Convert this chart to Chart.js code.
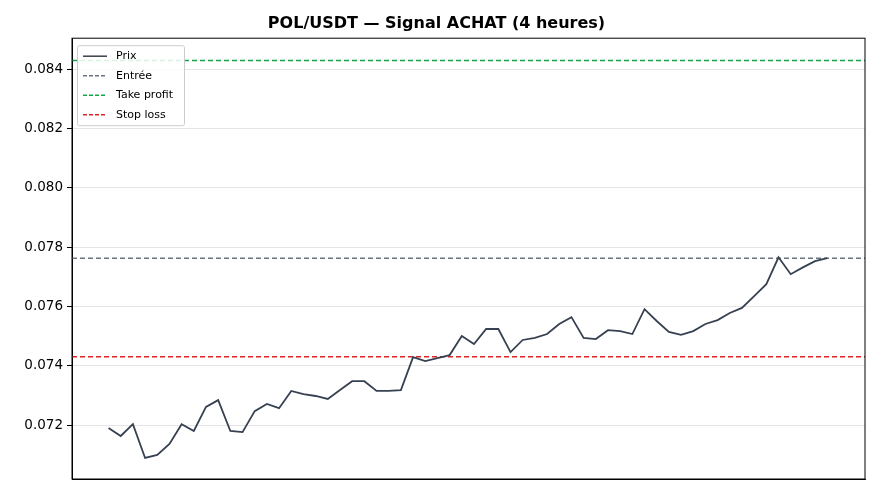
<!DOCTYPE html><html><head><meta charset="utf-8">
<script src="https://cdn.jsdelivr.net/npm/chart.js@4"></script>
<style>body{margin:0;background:#fff}#w{width:880px;height:495px}</style></head><body><div id="w"><canvas id="c"></canvas></div>
<script>
const prices=[0.07190,0.07163,0.07203,0.07089,0.07099,0.07136,0.07203,0.07180,0.07261,0.07284,0.07180,0.07176,0.07247,0.07271,0.07257,0.07315,0.07304,0.07298,0.07288,0.07318,0.07348,0.07348,0.07315,0.07315,0.07318,0.07429,0.07416,0.07426,0.07436,0.07500,0.07473,0.07524,0.07524,0.07446,0.07487,0.07494,0.07507,0.07541,0.07564,0.07494,0.07490,0.07520,0.07517,0.07507,0.07591,0.07551,0.07514,0.07504,0.07517,0.07541,0.07554,0.07578,0.07595,0.07635,0.07675,0.07766,0.07709,0.07732,0.07753,0.07763];
const entry=0.07763, takeProfit=0.0843, stopLoss=0.0743;
const yTicks=[0.072,0.074,0.076,0.078,0.080,0.082,0.084];
const labels=["Prix","Entrée","Take profit","Stop loss"];
const colors=["#374151","#6b7280","#16a34a","#dc2626"];
const X0=-3, X1=62.1;
const hline=(v,i)=>({label:labels[i],data:[{x:X0,y:v},{x:X1,y:v}],borderColor:colors[i],borderWidth:1.5,borderDash:[5,3],pointRadius:0,fill:false});
const legendPlugin={id:'lg',afterDraw(ch){const c=ch.ctx,a=ch.chartArea;const x=a.left+5,y=a.top+7,w=107,h=80;c.save();c.fillStyle='rgba(255,255,255,0.85)';c.strokeStyle='#ccc';c.lineWidth=1;c.beginPath();c.roundRect(x+.5,y+.5,w,h,2);c.fill();c.stroke();c.font='11px "DejaVu Sans"';c.textBaseline='middle';labels.forEach((l,i)=>{const yy=y+11+i*19.5;c.strokeStyle=colors[i];c.lineWidth=1.5;c.setLineDash(i?[4,2]:[]);c.beginPath();c.moveTo(x+6,yy);c.lineTo(x+30,yy);c.stroke();c.setLineDash([]);c.fillStyle='#000';c.fillText(l,x+39,yy);});c.restore();}};
new Chart(document.getElementById('c'),{type:'line',data:{datasets:[
{label:labels[0],data:prices.map((p,i)=>({x:i,y:p})),borderColor:colors[0],borderWidth:1.8,pointRadius:0,tension:0},
hline(entry,1),hline(takeProfit,2),hline(stopLoss,3)]},
options:{responsive:true,maintainAspectRatio:false,animation:false,layout:{padding:{left:8,right:15,bottom:16,top:0}},
plugins:{legend:{display:false},tooltip:{enabled:false},title:{display:true,text:'POL/USDT — Signal ACHAT (4 heures)',font:{family:'DejaVu Sans',size:16,weight:'bold'},color:'#000',padding:{top:14,bottom:5}}},
scales:{x:{type:'linear',min:X0,max:X1,ticks:{display:false},grid:{display:false,drawTicks:false},border:{color:'#000'}},
y:{min:0.07018,max:0.08505,afterFit:s=>{s.width=64},afterBuildTicks:s=>{s.ticks=yTicks.map(v=>({value:v}))},ticks:{font:{family:'DejaVu Sans',size:13.5},color:'#000',callback:v=>v.toFixed(3),padding:4},grid:{color:'#e5e5e5',tickColor:'#000',tickLength:5},border:{color:'#000'}}}},
plugins:[legendPlugin,{id:'box',afterDraw(ch){const a=ch.chartArea,c=ch.ctx;c.save();c.strokeStyle='#000';c.lineWidth=1;c.strokeRect(a.left,a.top,a.right-a.left,a.bottom-a.top);c.restore();}}]});
</script></body></html>
